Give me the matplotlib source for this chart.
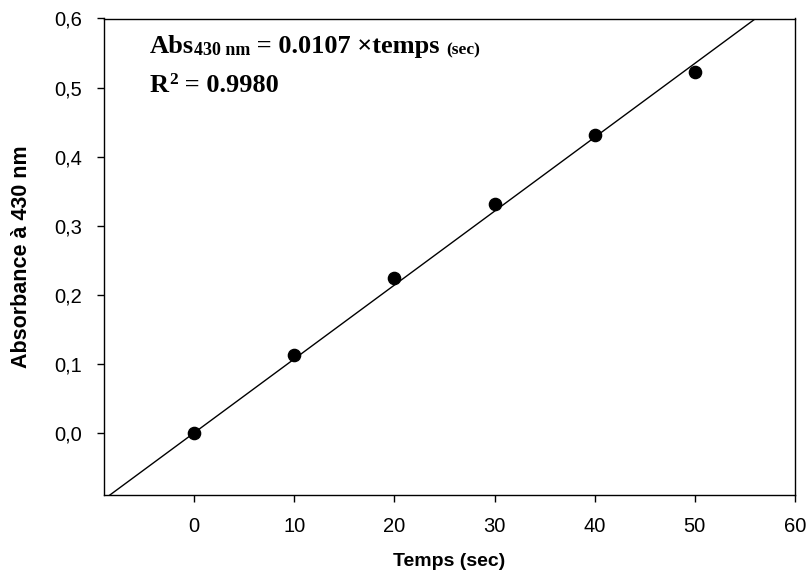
import matplotlib
matplotlib.use("Agg")
import matplotlib.pyplot as plt
import numpy as np

# Data
temps = [0, 10, 20, 30, 40, 50]
absorbance = [0.0, 0.1125, 0.224, 0.331, 0.431, 0.522]
slope = 0.0107
xticks = [0, 10, 20, 30, 40, 50, 60]
yticks = [0.0, 0.1, 0.2, 0.3, 0.4, 0.5, 0.6]
ytick_labels = ["0,0", "0,1", "0,2", "0,3", "0,4", "0,5", "0,6"]

W, H = 809, 584
fig = plt.figure(figsize=(W / 100, H / 100), dpi=100)
ax = fig.add_axes([104 / W, 1 - 495 / H, (795 - 104) / W, (495 - 18.5) / H])

xlim = (-9, 60)
ylim = (-0.09, 0.6)
xl = np.array(xlim, dtype=float)
ax.plot(xl, slope * xl, color="black", lw=1.0, zorder=2)
ax.plot(temps, absorbance, "o", color="black", ms=8.8, zorder=3)

ax.set_xlim(*xlim)
ax.set_ylim(*ylim)
ax.set_xticks(xticks)
ax.set_xticklabels([str(t) for t in xticks], family="Liberation Sans", fontsize=14.5)
ax.set_yticks(yticks)
ax.set_yticklabels(ytick_labels, family="Liberation Sans", fontsize=14.5)
ax.tick_params(direction="out", length=5, width=1, top=False, right=False)
ax.tick_params(axis="x", pad=11)
ax.tick_params(axis="y", pad=11)
for s in ax.spines.values():
    s.set_linewidth(1.0)

ax.set_xlabel("Temps (sec)", family="Liberation Sans", fontweight="bold", fontsize=14)
ax.xaxis.set_label_coords(0.5, -(562 - 495) / (495 - 18.5))
ax.xaxis.label.set_va("center")
ax.set_ylabel("Absorbance à 430 nm", family="Liberation Sans", fontweight="bold", fontsize=15.5)
ax.yaxis.set_label_coords(-(104 - 22) / (795 - 104), 0.5)
ax.yaxis.label.set_va("center")

# Equation text built from pieces
renderer = fig.canvas.get_renderer()

def chain(pieces, x0, y0):
    x = x0
    for txt, size, dy in pieces:
        t = fig.text(x / W, 1 - (y0 - dy) / H, txt, family="Liberation Serif",
                     fontweight="bold", fontsize=size, va="baseline", ha="left")
        bb = t.get_window_extent(renderer=renderer)
        x += bb.width

chain([("Abs", 19, 0), ("430 nm", 13, -2), (" = 0.0107 ×temps ", 19, 0), ("(sec)", 12.5, -1)], 150, 53)
chain([("R", 19, 0), ("2", 12.5, 8), (" = 0.9980", 19, 0)], 150, 92)

fig.savefig("out.png", dpi=100)
